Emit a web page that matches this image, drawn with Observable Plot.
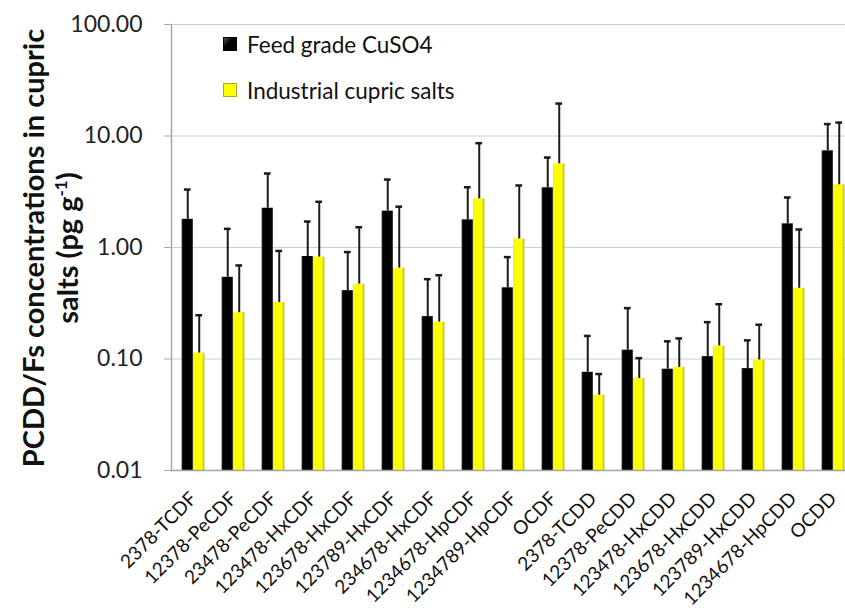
<!DOCTYPE html>
<html>
<head>
<meta charset="utf-8">
<script src="https://cdn.jsdelivr.net/npm/d3@7"></script>
<script src="https://cdn.jsdelivr.net/npm/@observablehq/plot@0.6"></script>
<style>
  html, body { margin: 0; padding: 0; background: #fff; overflow: hidden; }
  #wrap { position: relative; width: 845px; height: 608px; overflow: hidden; font-family: Lato, "Open Sans", sans-serif; }
  #wrap svg { position: absolute; left: 0; top: 0; max-width: none !important; width: 855px !important; height: 608px !important; }
  .ytitle {
    position: absolute; left: 50px; top: 248px; width: 520px;
    transform: translate(-50%, -50%) rotate(-90deg);
    text-align: center; font-weight: bold; font-size: 29px; line-height: 34px; color: #111;
    white-space: nowrap;
  }
  .ytitle sup { font-size: 17px; line-height: 0; }
  .legend { position: absolute; left: 223px; top: 21px; font-size: 22.5px; color: #111; }
  .legend .row { display: flex; align-items: center; height: 46px; }
  .legend .sw { width: 14px; height: 14px; margin-right: 10px; box-sizing: border-box; }
</style>
</head>
<body>
<div id="wrap"></div>
<script>
// PCDD/F congeners
const compounds = [
  "2378-TCDF", "12378-PeCDF", "23478-PeCDF", "123478-HxCDF", "123678-HxCDF",
  "123789-HxCDF", "234678-HxCDF", "1234678-HpCDF", "1234789-HpCDF", "OCDF",
  "2378-TCDD", "12378-PeCDD", "123478-HxCDD", "123678-HxCDD", "123789-HxCDD",
  "1234678-HpCDD", "OCDD"
];
const seriesNames = ["Feed grade CuSO4", "Industrial cupric salts"];

// mean concentrations (pg/g) and standard deviations
const feedMean = [1.79, 0.54, 2.25, 0.83, 0.41, 2.12, 0.24, 1.77, 0.435, 3.43, 0.076, 0.12, 0.081, 0.105, 0.082, 1.63, 7.36];
const feedSD   = [1.52, 0.93, 2.36, 0.88, 0.50, 1.95, 0.28, 1.70, 0.385, 2.98, 0.085, 0.166, 0.063, 0.109, 0.065, 1.18, 5.44];
const indMean  = [0.113, 0.26, 0.321, 0.82, 0.469, 0.653, 0.214, 2.73, 1.19, 5.63, 0.0473, 0.0668, 0.084, 0.131, 0.098, 0.431, 3.65];
const indSD    = [0.134, 0.43, 0.61, 1.75, 1.05, 1.67, 0.35, 5.89, 2.41, 13.9, 0.026, 0.035, 0.069, 0.179, 0.105, 1.02, 9.55];

const yTicks = [0.01, 0.1, 1, 10, 100];

const feed = compounds.map((c, i) => ({compound: c, mean: feedMean[i], sd: feedSD[i]}));
const ind = compounds.map((c, i) => ({compound: c, mean: indMean[i], sd: indSD[i]}));

const W = 855, H = 608, ML = 171, MT = 24, MB = 138;
const band = (W - ML) / compounds.length;
const barW = 11.5;
const half = band / 2;
const capInset = (band - 7) / 2;

const plot = Plot.plot({
  width: W,
  height: H,
  marginLeft: ML,
  marginRight: 0,
  marginTop: MT,
  marginBottom: MB,
  style: {fontFamily: "Lato, 'Open Sans', sans-serif", background: "transparent"},
  x: {type: "band", domain: compounds, padding: 0, label: null},
  y: {type: "log", domain: [0.01, 100], label: null},
  marks: [
    Plot.gridY(yTicks.slice(1), {stroke: "#c3d0df", strokeOpacity: 1, strokeWidth: 1}),
    Plot.barY(feed, {x: "compound", y1: 0.01, y2: "mean", fill: "url(#gBlack)", insetLeft: half - barW, insetRight: half}),
    Plot.barY(ind, {x: "compound", y1: 0.01, y2: "mean", fill: "url(#gYellow)", insetLeft: half, insetRight: half - barW}),
    Plot.ruleX(feed, {x: "compound", y1: "mean", y2: d => d.mean + d.sd, dx: -barW / 2, stroke: "#1a1a1a", strokeWidth: 2}),
    Plot.ruleX(ind, {x: "compound", y1: "mean", y2: d => d.mean + d.sd, dx: barW / 2, stroke: "#1a1a1a", strokeWidth: 2}),
    Plot.tickY(feed, {x: "compound", y: d => d.mean + d.sd, dx: -barW / 2, insetLeft: capInset, insetRight: capInset, stroke: "#1a1a1a", strokeWidth: 2.5}),
    Plot.tickY(ind, {x: "compound", y: d => d.mean + d.sd, dx: barW / 2, insetLeft: capInset, insetRight: capInset, stroke: "#1a1a1a", strokeWidth: 2.5}),
    Plot.ruleY([0.01], {stroke: "#a6a6a6", strokeWidth: 1.5}),
    Plot.frame({anchor: "left", stroke: "#a6a6a6", strokeWidth: 1.5}),
    Plot.axisY({ticks: yTicks, tickFormat: d3.format(".2f"), tickSize: 7, tickPadding: 22, fontSize: 23, stroke: "#a6a6a6", color: "#222", label: null}),
    Plot.axisX({tickRotate: -45, tickSize: 0, tickPadding: 25, fontSize: 19, color: "#111", label: null})
  ]
});

// bar shading gradients
const ns = "http://www.w3.org/2000/svg";
const defs = document.createElementNS(ns, "defs");
defs.innerHTML = `
  <linearGradient id="gBlack" x1="0" x2="1" y1="0" y2="0">
    <stop offset="0" stop-color="#3a3a3a"/>
    <stop offset="0.12" stop-color="#000"/>
    <stop offset="0.85" stop-color="#000"/>
    <stop offset="1" stop-color="#2a2a2a"/>
  </linearGradient>
  <linearGradient id="gYellow" x1="0" x2="1" y1="0" y2="0">
    <stop offset="0" stop-color="#e8e800"/>
    <stop offset="0.12" stop-color="#ffff00"/>
    <stop offset="0.8" stop-color="#ffff00"/>
    <stop offset="1" stop-color="#a8a830"/>
  </linearGradient>`;
plot.insertBefore(defs, plot.firstChild);

const wrap = document.getElementById("wrap");
wrap.appendChild(plot);

// y-axis title
const yt = document.createElement("div");
yt.className = "ytitle";
yt.innerHTML = "PCDD/Fs concentrations in cupric<br>salts (pg g<sup>-1</sup>)";
wrap.appendChild(yt);

// legend
const legend = document.createElement("div");
legend.className = "legend";
const swatches = [
  {name: seriesNames[0], bg: "linear-gradient(135deg,#555 0%,#000 40%,#000 100%)", border: "#000"},
  {name: seriesNames[1], bg: "#ffff00", border: "#a8a830"}
];
swatches.forEach(s => {
  const row = document.createElement("div");
  row.className = "row";
  const sw = document.createElement("span");
  sw.className = "sw";
  sw.style.background = s.bg;
  sw.style.border = "1px solid " + s.border;
  const t = document.createElement("span");
  t.textContent = s.name;
  row.appendChild(sw);
  row.appendChild(t);
  legend.appendChild(row);
});
wrap.appendChild(legend);
</script>
</body>
</html>
